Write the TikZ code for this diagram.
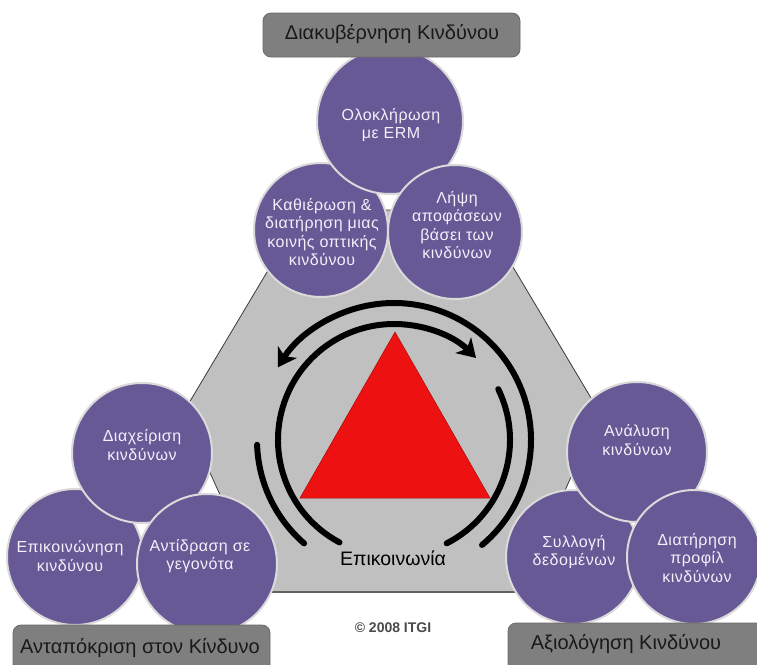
\documentclass[tikz,border=0pt]{standalone}
\usepackage{fontspec}
\setmainfont{Liberation Sans}
\newfontfamily\spacedfont[LetterSpace=3]{Liberation Sans}
\usetikzlibrary{arrows.meta}
\definecolor{circfill}{HTML}{675995}
\definecolor{circedge}{HTML}{DADADA}
\definecolor{circtext}{HTML}{F2F0FA}
\definecolor{boxfill}{HTML}{7F7F7F}
\definecolor{boxedge}{HTML}{6A6A6A}
\definecolor{hexfill}{HTML}{C0C0C0}
\definecolor{hexedge}{HTML}{3A3A3A}
\definecolor{trired}{HTML}{EE1111}
\definecolor{copygray}{HTML}{4A4A4A}
\tikzset{
  bubble/.style={circle, fill=circfill, draw=circedge, line width=2pt, inner sep=0pt, outer sep=0pt},
  bubtext/.style={text=circtext, align=center, font=\spacedfont\fontsize{16}{18.5}\selectfont, inner sep=0pt},
  labelbox/.style={rectangle, rounded corners=8pt, fill=boxfill, draw=boxedge, line width=0.8pt},
  labeltext/.style={text=black!90, font=\fontsize{20}{24}\selectfont, inner sep=0pt},
  ring/.style={line width=6pt, black, line cap=round},
  ringtip/.style={-{Stealth[length=18pt,width=22pt,inset=5pt]}}
}
\begin{document}
\begin{tikzpicture}[x=1pt,y=-1pt]
\useasboundingbox (0,0) rectangle (757,664);
\clip (0,0) rectangle (757,664);
\fill[white] (0,0) rectangle (757,664);

% grey truncated triangle
\coordinate (h1) at (304,210);
\coordinate (h2) at (479,210);
\coordinate (h3) at (600,413);
\coordinate (h4) at (519,592);
\coordinate (h5) at (264,592);
\coordinate (h6) at (183,413);
\filldraw[fill=hexfill, draw=hexedge, line width=0.8pt] (h1) -- (h2) -- (h3) -- (h4) -- (h5) -- (h6) -- cycle;
\draw[line width=2.2pt, draw=hexedge!80] (h5) -- (h4);

% red triangle
\coordinate (t1) at (395,332);
\coordinate (t2) at (490,498);
\coordinate (t3) at (300,498);
\filldraw[fill=trired, draw=trired!70!black, line width=0.5pt] (t1) -- (t2) -- (t3) -- cycle;

% circular arrows
\coordinate (ctr) at (394,440);
\draw[ring, ringtip] ([shift={(50:137)}]ctr) arc[start angle=50, end angle=-148, radius=137];
\draw[ring, ringtip] ([shift={(-242:116)}]ctr) arc[start angle=-242, end angle=-45, radius=116];
\draw[ring] ([shift={(-182:137)}]ctr) arc[start angle=-182, end angle=-229, radius=137];
\draw[ring] ([shift={(-26:116)}]ctr) arc[start angle=-26, end angle=63, radius=116];

\node[font=\fontsize{19.5}{22}\selectfont, text=black, inner sep=0pt] (comm) at (393,558) {Επικοινωνία};
\node[font=\bfseries\fontsize{14}{16}\selectfont, text=copygray, inner sep=0pt] (copy) at (393,628) {© 2008 ITGI};

% top cluster
\node[bubble, minimum size=134pt] (gL) at (321,230) {};
\node[bubble, minimum size=146pt] (gT) at (390,121) {};
\node[bubble, minimum size=134pt] (gR) at (455,232) {};
\node[bubtext] (gTt) at (391,125) {Ολοκλήρωση\\με ERM};
\node[bubtext] (gLt) at (322,232) {Καθιέρωση \&\\διατήρηση μιας\\κοινής οπτικής\\κινδύνου};
\node[bubtext] (gRt) at (457,225) {Λήψη\\αποφάσεων\\βάσει των\\κινδύνων};

% bottom-left cluster
\node[bubble, minimum size=136pt] (rL) at (75,557) {};
\node[bubble, minimum size=140pt] (rT) at (142,453) {};
\node[bubble, minimum size=140pt] (rR) at (207,564) {};
\node[bubtext] (rTt) at (142,445) {Διαχείριση\\κινδύνων};
\node[bubtext] (rLt) at (70,556) {Επικοινώνηση\\κινδύνου};
\node[bubtext] (rRt) at (200,556) {Αντίδραση σε\\γεγονότα};

% bottom-right cluster
\node[bubble, minimum size=134pt] (aL) at (573,557) {};
\node[bubble, minimum size=140pt] (aT) at (637,452) {};
\node[bubble, minimum size=134pt] (aR) at (694,557) {};
\node[bubtext] (aTt) at (637,440) {Ανάλυση\\κινδύνων};
\node[bubtext] (aLt) at (574,552) {Συλλογή\\δεδομένων};
\node[bubtext] (aRt) at (697,558) {Διατήρηση\\προφίλ\\κινδύνων};

% label boxes
\node[labelbox, minimum width=257pt, minimum height=44pt] (govbox) at (391.5,35) {};
\node[labeltext] (govtext) at (392,34) {Διακυβέρνηση Κινδύνου};
\node[labelbox, minimum width=257pt, minimum height=50pt] (resbox) at (141.5,650) {};
\node[labeltext] (restext) at (140,648) {Ανταπόκριση στον Κίνδυνο};
\node[labelbox, minimum width=270pt, minimum height=50pt] (assbox) at (643,648) {};
\node[labeltext] (asstext) at (626,644) {Αξιολόγηση Κινδύνου};
\end{tikzpicture}
\end{document}
